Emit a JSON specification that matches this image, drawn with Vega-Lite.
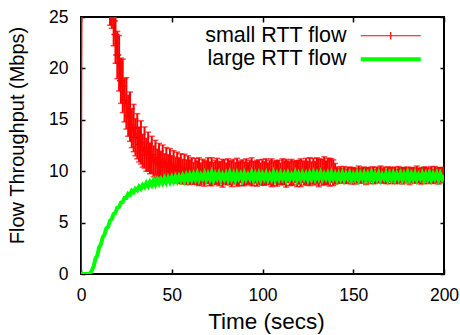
{
"$schema": "https://vega.github.io/schema/vega-lite/v6.json",
"width": 363, "height": 257,
"autosize": {"type": "none"},
"padding": {"left": 81, "top": 17, "right": 16, "bottom": 61},
"background": "#ffffff",
"config": {
 "font": "Liberation Sans",
 "view": {"stroke": "#000000", "strokeWidth": 2},
 "axis": {"domain": false, "ticks": false, "labelFont": "Liberation Sans", "labelFontSize": 17.5, "labelColor": "#000000", "gridColor": "#000000", "gridWidth": 1.5, "gridOpacity": 1, "titleFont": "Liberation Sans", "titleFontWeight": "normal", "titleColor": "#000000", "labelFlush": false}
},
"data": {"values": [
{"t":0,"r":0,"e":0,"g":0},{"t":1,"r":62,"e":4,"g":0},{"t":2,"r":58,"e":4,"g":0},{"t":3,"r":54,"e":4,"g":0},{"t":4,"r":50,"e":4,"g":0},
{"t":5,"r":47,"e":4,"g":0.05},{"t":6,"r":44,"e":3.5,"g":0.35},{"t":7,"r":41.5,"e":3.5,"g":0.75},{"t":8,"r":39,"e":3.5,"g":1.5},{"t":9,"r":37,"e":3.5,"g":1.8},
{"t":10,"r":35,"e":3,"g":2.6},{"t":11,"r":33.3,"e":3,"g":2.9},{"t":12,"r":31.8,"e":3,"g":3.6},{"t":13,"r":30.4,"e":3,"g":3.85},{"t":14,"r":29.2,"e":2.8,"g":4.45},
{"t":15,"r":28.1,"e":2.8,"g":4.6},{"t":16,"r":27,"e":2.8,"g":5.2},{"t":17,"r":26.5,"e":2.6,"g":5.35},{"t":18,"r":24.6,"e":2.4,"g":5.85},{"t":19,"r":23.3,"e":2.8,"g":5.95},
{"t":20,"r":21.3,"e":2.3,"g":6.45},{"t":21,"r":20.5,"e":2.7,"g":6.5},{"t":22,"r":18.8,"e":2.2,"g":6.95},{"t":23,"r":18.3,"e":2.6,"g":7.0},{"t":24,"r":16.9,"e":2.1,"g":7.4},
{"t":25,"r":16.6,"e":2.5,"g":7.4},{"t":26,"r":15.4,"e":2.0,"g":7.8},{"t":27,"r":15.3,"e":2.4,"g":7.7},{"t":28,"r":14.2,"e":1.9,"g":8.1},{"t":29,"r":14.2,"e":2.3,"g":7.95},
{"t":30,"r":13.3,"e":1.8,"g":8.3},{"t":31,"r":13.4,"e":2.2,"g":8.15},{"t":32,"r":12.6,"e":1.7,"g":8.5},{"t":33,"r":12.8,"e":2.1,"g":8.3},{"t":34,"r":12.0,"e":1.6,"g":8.65},
{"t":35,"r":12.3,"e":2.0,"g":8.45},{"t":36,"r":11.6,"e":1.6,"g":8.85},{"t":37,"r":11.9,"e":1.9,"g":8.55},{"t":38,"r":11.25,"e":1.5,"g":8.95},{"t":39,"r":11.6,"e":1.8,"g":8.65},
{"t":40,"r":10.95,"e":1.5,"g":9.1},{"t":41,"r":11.3,"e":1.7,"g":8.7},{"t":42,"r":10.75,"e":1.4,"g":9.15},{"t":43,"r":11.1,"e":1.6,"g":8.8},{"t":44,"r":10.55,"e":1.4,"g":9.2},
{"t":45,"r":10.95,"e":1.6,"g":8.85},{"t":46,"r":10.4,"e":1.3,"g":9.3},{"t":47,"r":10.8,"e":1.5,"g":8.9},{"t":48,"r":10.3,"e":1.3,"g":9.35},{"t":49,"r":10.7,"e":1.5,"g":8.95},
{"t":50,"r":10.2,"e":1.3,"g":9.4},{"t":51,"r":10.6,"e":1.4,"g":9.0},{"t":52,"r":10.1,"e":1.25,"g":9.45},{"t":53,"r":10.45,"e":1.4,"g":9.05},{"t":54,"r":10.05,"e":1.25,"g":9.5},
{"t":55,"r":10.35,"e":1.35,"g":9.1},{"t":56,"r":9.95,"e":1.2,"g":9.55},{"t":57,"r":10.3,"e":1.35,"g":9.1},{"t":58,"r":9.9,"e":1.2,"g":9.6},{"t":59,"r":10.2,"e":1.3,"g":9.15},
{"t":60,"r":9.9,"e":1.2,"g":9.65},{"t":61,"r":10.05,"e":1.25,"g":9.2},{"t":62,"r":9.8,"e":1.05,"g":9.7},{"t":63,"r":10.0,"e":1.25,"g":9.25},{"t":64,"r":9.85,"e":1.15,"g":9.75},
{"t":65,"r":9.95,"e":1.35,"g":9.2},{"t":66,"r":9.75,"e":1.05,"g":9.65},{"t":67,"r":10.0,"e":1.15,"g":9.3},{"t":68,"r":9.8,"e":1.25,"g":9.75},{"t":69,"r":9.9,"e":1.05,"g":9.2},
{"t":70,"r":10.05,"e":1.25,"g":9.7},{"t":71,"r":9.75,"e":1.15,"g":9.25},{"t":72,"r":9.95,"e":1.35,"g":9.8},{"t":73,"r":9.8,"e":1.05,"g":9.15},{"t":74,"r":9.9,"e":1.15,"g":9.7},
{"t":75,"r":10.0,"e":1.25,"g":9.3},{"t":76,"r":9.75,"e":1.15,"g":9.75},{"t":77,"r":9.9,"e":1.05,"g":9.2},{"t":78,"r":9.8,"e":1.35,"g":9.65},{"t":79,"r":9.95,"e":1.15,"g":9.25},
{"t":80,"r":9.75,"e":1.05,"g":9.7},{"t":81,"r":9.95,"e":1.25,"g":9.2},{"t":82,"r":9.85,"e":1.15,"g":9.8},{"t":83,"r":9.75,"e":1.25,"g":9.25},{"t":84,"r":10.0,"e":1.15,"g":9.7},
{"t":85,"r":9.8,"e":1.05,"g":9.15},{"t":86,"r":9.9,"e":1.35,"g":9.75},{"t":87,"r":9.75,"e":1.15,"g":9.3},{"t":88,"r":9.95,"e":1.05,"g":9.7},{"t":89,"r":9.85,"e":1.25,"g":9.2},
{"t":90,"r":9.75,"e":1.15,"g":9.75},{"t":91,"r":9.95,"e":1.25,"g":9.25},{"t":92,"r":9.8,"e":1.05,"g":9.65},{"t":93,"r":9.9,"e":1.15,"g":9.3},{"t":94,"r":9.95,"e":1.35,"g":9.8},
{"t":95,"r":9.75,"e":1.15,"g":9.2},{"t":96,"r":9.9,"e":1.05,"g":9.7},{"t":97,"r":9.8,"e":1.25,"g":9.25},{"t":98,"r":9.95,"e":1.15,"g":9.75},{"t":99,"r":9.75,"e":1.05,"g":9.2},
{"t":100,"r":9.9,"e":1.25,"g":9.7},{"t":101,"r":9.8,"e":1.15,"g":9.3},{"t":102,"r":9.95,"e":1.25,"g":9.75},{"t":103,"r":9.75,"e":1.05,"g":9.2},{"t":104,"r":9.9,"e":1.15,"g":9.65},
{"t":105,"r":9.85,"e":1.35,"g":9.25},{"t":106,"r":9.75,"e":1.15,"g":9.8},{"t":107,"r":9.95,"e":1.05,"g":9.2},{"t":108,"r":9.8,"e":1.25,"g":9.7},{"t":109,"r":9.9,"e":1.15,"g":9.25},
{"t":110,"r":9.75,"e":1.05,"g":9.75},{"t":111,"r":9.95,"e":1.25,"g":9.3},{"t":112,"r":9.85,"e":1.15,"g":9.7},{"t":113,"r":9.8,"e":1.35,"g":9.2},{"t":114,"r":9.95,"e":1.05,"g":9.75},
{"t":115,"r":9.75,"e":1.15,"g":9.25},{"t":116,"r":9.9,"e":1.25,"g":9.65},{"t":117,"r":9.8,"e":1.15,"g":9.3},{"t":118,"r":9.95,"e":1.05,"g":9.8},{"t":119,"r":9.75,"e":1.25,"g":9.2},
{"t":120,"r":9.9,"e":1.15,"g":9.7},{"t":121,"r":9.85,"e":1.35,"g":9.25},{"t":122,"r":9.95,"e":1.05,"g":9.75},{"t":123,"r":9.8,"e":1.15,"g":9.3},{"t":124,"r":10.0,"e":1.25,"g":9.7},
{"t":125,"r":9.8,"e":1.15,"g":9.2},{"t":126,"r":9.95,"e":1.35,"g":9.75},{"t":127,"r":9.85,"e":1.05,"g":9.3},{"t":128,"r":10.0,"e":1.25,"g":9.8},{"t":129,"r":9.8,"e":1.15,"g":9.25},
{"t":130,"r":10.05,"e":1.25,"g":9.75},{"t":131,"r":9.85,"e":1.35,"g":9.3},{"t":132,"r":10.0,"e":1.15,"g":9.8},{"t":133,"r":9.9,"e":1.25,"g":9.25},{"t":134,"r":10.05,"e":1.35,"g":9.7},
{"t":135,"r":9.85,"e":1.15,"g":9.3},{"t":136,"r":10.0,"e":1.25,"g":9.75},{"t":137,"r":9.9,"e":1.35,"g":9.25},{"t":138,"r":10.05,"e":1.15,"g":9.8},{"t":139,"r":9.85,"e":1.25,"g":9.3},
{"t":140,"r":9.75,"e":1.0,"g":9.7},{"t":141,"r":9.6,"e":0.8,"g":9.2},{"t":142,"r":9.55,"e":0.7,"g":9.7},{"t":143,"r":9.7,"e":0.75,"g":9.25},{"t":144,"r":9.55,"e":0.7,"g":9.75},
{"t":145,"r":9.65,"e":0.8,"g":9.2},{"t":146,"r":9.5,"e":0.7,"g":9.7},{"t":147,"r":9.6,"e":0.75,"g":9.3},{"t":148,"r":9.7,"e":0.7,"g":9.75},{"t":149,"r":9.55,"e":0.8,"g":9.2},
{"t":150,"r":9.65,"e":0.7,"g":9.65},{"t":151,"r":9.5,"e":0.75,"g":9.25},{"t":152,"r":9.6,"e":0.7,"g":9.75},{"t":153,"r":9.7,"e":0.8,"g":9.2},{"t":154,"r":9.55,"e":0.7,"g":9.7},
{"t":155,"r":9.6,"e":0.75,"g":9.3},{"t":156,"r":9.7,"e":0.7,"g":9.75},{"t":157,"r":9.5,"e":0.8,"g":9.2},{"t":158,"r":9.65,"e":0.7,"g":9.7},{"t":159,"r":9.55,"e":0.75,"g":9.25},
{"t":160,"r":9.7,"e":0.7,"g":9.8},{"t":161,"r":9.6,"e":0.8,"g":9.2},{"t":162,"r":9.5,"e":0.7,"g":9.7},{"t":163,"r":9.65,"e":0.75,"g":9.25},{"t":164,"r":9.6,"e":0.7,"g":9.75},
{"t":165,"r":9.7,"e":0.8,"g":9.2},{"t":166,"r":9.55,"e":0.7,"g":9.65},{"t":167,"r":9.65,"e":0.75,"g":9.3},{"t":168,"r":9.5,"e":0.7,"g":9.75},{"t":169,"r":9.6,"e":0.8,"g":9.2},
{"t":170,"r":9.7,"e":0.7,"g":9.7},{"t":171,"r":9.55,"e":0.75,"g":9.25},{"t":172,"r":9.65,"e":0.7,"g":9.75},{"t":173,"r":9.6,"e":0.8,"g":9.2},{"t":174,"r":9.5,"e":0.7,"g":9.7},
{"t":175,"r":9.7,"e":0.75,"g":9.3},{"t":176,"r":9.6,"e":0.7,"g":9.75},{"t":177,"r":9.55,"e":0.8,"g":9.2},{"t":178,"r":9.65,"e":0.7,"g":9.7},{"t":179,"r":9.6,"e":0.75,"g":9.25},
{"t":180,"r":9.7,"e":0.7,"g":9.8},{"t":181,"r":9.5,"e":0.8,"g":9.2},{"t":182,"r":9.65,"e":0.7,"g":9.7},{"t":183,"r":9.6,"e":0.75,"g":9.25},{"t":184,"r":9.55,"e":0.7,"g":9.75},
{"t":185,"r":9.7,"e":0.8,"g":9.2},{"t":186,"r":9.6,"e":0.7,"g":9.65},{"t":187,"r":9.5,"e":0.75,"g":9.3},{"t":188,"r":9.65,"e":0.7,"g":9.75},{"t":189,"r":9.6,"e":0.8,"g":9.2},
{"t":190,"r":9.7,"e":0.7,"g":9.7},{"t":191,"r":9.55,"e":0.75,"g":9.25},{"t":192,"r":9.6,"e":0.7,"g":9.75},{"t":193,"r":9.65,"e":0.8,"g":9.2},{"t":194,"r":9.5,"e":0.7,"g":9.7},
{"t":195,"r":9.7,"e":0.75,"g":9.3},{"t":196,"r":9.6,"e":0.7,"g":9.75},{"t":197,"r":9.55,"e":0.8,"g":9.2},{"t":198,"r":9.65,"e":0.7,"g":9.7},{"t":199,"r":9.6,"e":0.75,"g":9.25},
{"t":200,"r":9.65,"e":0.7,"g":9.6}
]},
"layer": [
 {
  "mark": {"type": "errorbar", "color": "#ff0000", "clip": true, "ticks": {"size": 6, "color": "#ff0000", "thickness": 1.5}, "rule": {"strokeWidth": 2, "color": "#ff0000"}},
  "encoding": {
   "x": {"field": "t", "type": "quantitative", "scale": {"domain": [0, 200], "nice": false, "zero": false},
    "axis": {"orient": "bottom", "values": [0, 50, 100, 150, 200], "grid": true, "gridDash": [5, 247], "labelPadding": 12, "title": "Time (secs)", "titleFontSize": 22.5, "titleBaseline": "alphabetic", "titleY": 54, "titleX": 185}},
   "y": {"field": "r", "type": "quantitative", "scale": {"domain": [0, 25], "nice": false, "zero": false},
    "axis": {"orient": "left", "values": [0, 5, 10, 15, 20, 25], "grid": true, "gridDash": [4, 355], "labelPadding": 13, "title": "Flow Throughput (Mbps)", "titleFontSize": 20, "titleBaseline": "alphabetic", "titleX": -58, "titleY": 118, "titleAngle": -90}},
   "yError": {"field": "e"}
  }
 },
 {
  "mark": {"type": "line", "strokeWidth": 1.5, "clip": true},
  "encoding": {
   "x": {"field": "t", "type": "quantitative"},
   "y": {"field": "r", "type": "quantitative"},
   "color": {"datum": "small RTT flow", "type": "nominal",
    "scale": {"domain": ["small RTT flow", "large RTT flow"], "range": ["#ff0000", "#00ff00"]},
    "legend": {"orient": "none", "legendX": 299, "legendY": 8, "direction": "vertical", "title": null, "padding": 0,
     "symbolType": "M-4,0H4", "symbolSize": 225, "symbolStrokeWidth": 4,
     "labelAlign": "right", "labelOffset": -55, "labelFontSize": 21.5, "labelFont": "Liberation Sans", "labelColor": "#000000", "labelLimit": 0, "rowPadding": 0.5,
     "encode": {"symbols": {"update": {
       "shape": {"signal": "datum.value === 'small RTT flow' ? 'M-4,0H4M0,-0.5V0.5' : 'M-4,0H4'"},
       "strokeWidth": {"signal": "datum.value === 'small RTT flow' ? 1.2 : 4"}
     }}}}
   }
  }
 },
 {
  "mark": {"type": "point", "shape": "M-1,0H1M0,-1V1", "size": 64, "filled": false, "color": "#ff0000", "strokeWidth": 1.5, "opacity": 1, "clip": true},
  "encoding": {
   "x": {"field": "t", "type": "quantitative"},
   "y": {"field": "r", "type": "quantitative"}
  }
 },
 {
  "mark": {"type": "line", "strokeWidth": 4, "clip": true},
  "encoding": {
   "x": {"field": "t", "type": "quantitative"},
   "y": {"field": "g", "type": "quantitative"},
   "color": {"datum": "large RTT flow", "type": "nominal"}
  }
 }
]
}
